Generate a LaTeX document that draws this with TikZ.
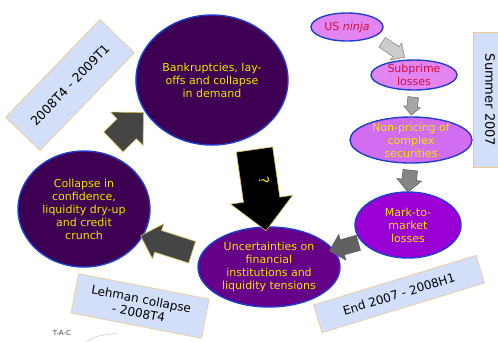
\documentclass[tikz,border=0pt]{standalone}
\usepackage{fontspec}
\setmainfont{DejaVu Sans}
\usetikzlibrary{shapes.geometric,shapes.arrows}
\definecolor{ringblue}{HTML}{1E3FD0}
\definecolor{deeppurple}{HTML}{3E0052}
\definecolor{midpurple}{HTML}{660088}
\definecolor{brightviolet}{HTML}{9A00D6}
\definecolor{orchid}{HTML}{D26CF0}
\definecolor{paleorchid}{HTML}{E285F2}
\definecolor{bubbleyellow}{HTML}{F0E400}
\definecolor{bubblered}{HTML}{D0103C}
\definecolor{boxfill}{HTML}{D3DEF8}
\definecolor{boxedge}{HTML}{F2C88A}
\definecolor{darkarrow}{HTML}{454545}
\definecolor{arrowgold}{HTML}{D8BC50}
\newcommand{\bubble}[6]{%
 \node[bubble, fill={#4}, #3] ({#1}) at ({#2}) {};%
 \node[bubbletext, text={#5}] ({#1}-t) at ({#1}) {#6};%
}
\newcommand{\period}[5]{%
 \node[period, rotate={#3}, #4] ({#1}) at ({#2}) {#5};%
}

\begin{document}
\begin{tikzpicture}[x=1pt, y=-1pt,
  bubble/.style={ellipse, draw=ringblue, line width=1.4pt, inner sep=0pt},
  bubbletext/.style={align=center, inner sep=0pt, font=\fontsize{11}{13}\selectfont},
  period/.style={draw=boxedge, fill=boxfill, line width=.6pt, align=center, inner sep=0pt, font=\fontsize{12}{14}\selectfont},
  blockarrow/.style={single arrow, sloped, allow upside down, midway, inner xsep=0pt, minimum width=0pt, text height=0pt, text depth=0pt, line width=.6pt}]
 \useasboundingbox (0,0) rectangle (498,341);

 % the spiral
 \bubble{bankrupt}{212,80}{minimum width=152pt, minimum height=130pt}{deeppurple}{bubbleyellow}{Bankruptcies, lay-\\offs and collapse\\in demand};
 \bubble{collapse}{84,209}{minimum width=132pt, minimum height=116pt}{deeppurple}{bubbleyellow}{Collapse in\\confidence,\\liquidity dry-up\\and credit\\crunch};
 \bubble{uncert}{269,267}{minimum width=142pt, minimum height=80pt}{midpurple}{bubbleyellow}{Uncertainties on\\financial\\institutions and\\liquidity tensions};
 \bubble{mark}{408,225}{minimum width=106pt, minimum height=66pt}{brightviolet}{bubbleyellow}{Mark-to-\\market\\losses};
 \bubble{nonpricing}{411,140}{minimum width=122pt, minimum height=46pt}{orchid}{bubbleyellow}{Non-pricing of\\complex\\securities};
 \bubble{subprime}{414,75}{minimum width=86pt, minimum height=30pt}{paleorchid}{bubblered}{Subprime\\losses};
 \bubble{ninja}{347,27}{minimum width=72pt, minimum height=28pt}{paleorchid}{bubblered}{US \emph{ninja}};

 % block arrows
 \path (ninja.-20) -- (subprime.112) node[blockarrow, fill=black!20, draw=black!45, minimum height=27pt, inner ysep=5.5pt, single arrow head extend=4.5pt] (a1) {};
 \path (subprime.-90) -- (nonpricing.90) node[blockarrow, fill=black!35, draw=black!55, minimum height=18pt, inner ysep=5pt, single arrow head extend=3pt] (a2) {};
 \path (nonpricing.-90) -- (mark.90) node[blockarrow, fill=black!48, draw=black!60, minimum height=22pt, inner ysep=7pt, single arrow head extend=5pt] (a3) {};
 \path (mark.200) -- (uncert.15) node[blockarrow, fill=darkarrow!85, draw=darkarrow!85, minimum height=30pt, inner ysep=7.5pt, single arrow head extend=5.5pt] (a4) {};
 \path (uncert.170) -- (collapse.-25) node[blockarrow, fill=darkarrow, draw=arrowgold, minimum height=54pt, inner ysep=11pt, single arrow head extend=7pt] (a5) {};
 \path (collapse.72) -- (bankrupt.205) node[blockarrow, fill=darkarrow, draw=arrowgold, minimum height=42pt, inner ysep=13.5pt, single arrow head extend=9.5pt] (a6) {};
 \path (bankrupt.-54) -- (uncert.95) node[blockarrow, fill=black, draw=arrowgold, minimum height=82pt, inner ysep=18pt, single arrow head extend=13pt, text=bubbleyellow, font=\fontsize{14}{14}\selectfont] (a7) {?};

 % periods
 \period{p1}{70,85}{46}{minimum width=136pt, minimum height=48pt, font=\fontsize{12.5}{15}\selectfont}{2008T4 - 2009T1};
 \period{p2}{490,100}{-90}{minimum width=135pt, minimum height=34pt, font=\fontsize{13}{15}\selectfont}{Summer 2007};
 \period{p3}{399,294}{17}{minimum width=170pt, minimum height=29pt}{End 2007 - 2008H1};
 \period{p4}{140,306}{-11}{minimum width=133pt, minimum height=40pt}{Lehman collapse\\- 2008T4};

 \node[font=\fontsize{7}{8}\selectfont, text=black!75] (tac) at (62,333) {T-A-C};
 \draw[black!25] (86,342) .. controls (96,336) .. (118,333);
\end{tikzpicture}
\end{document}
